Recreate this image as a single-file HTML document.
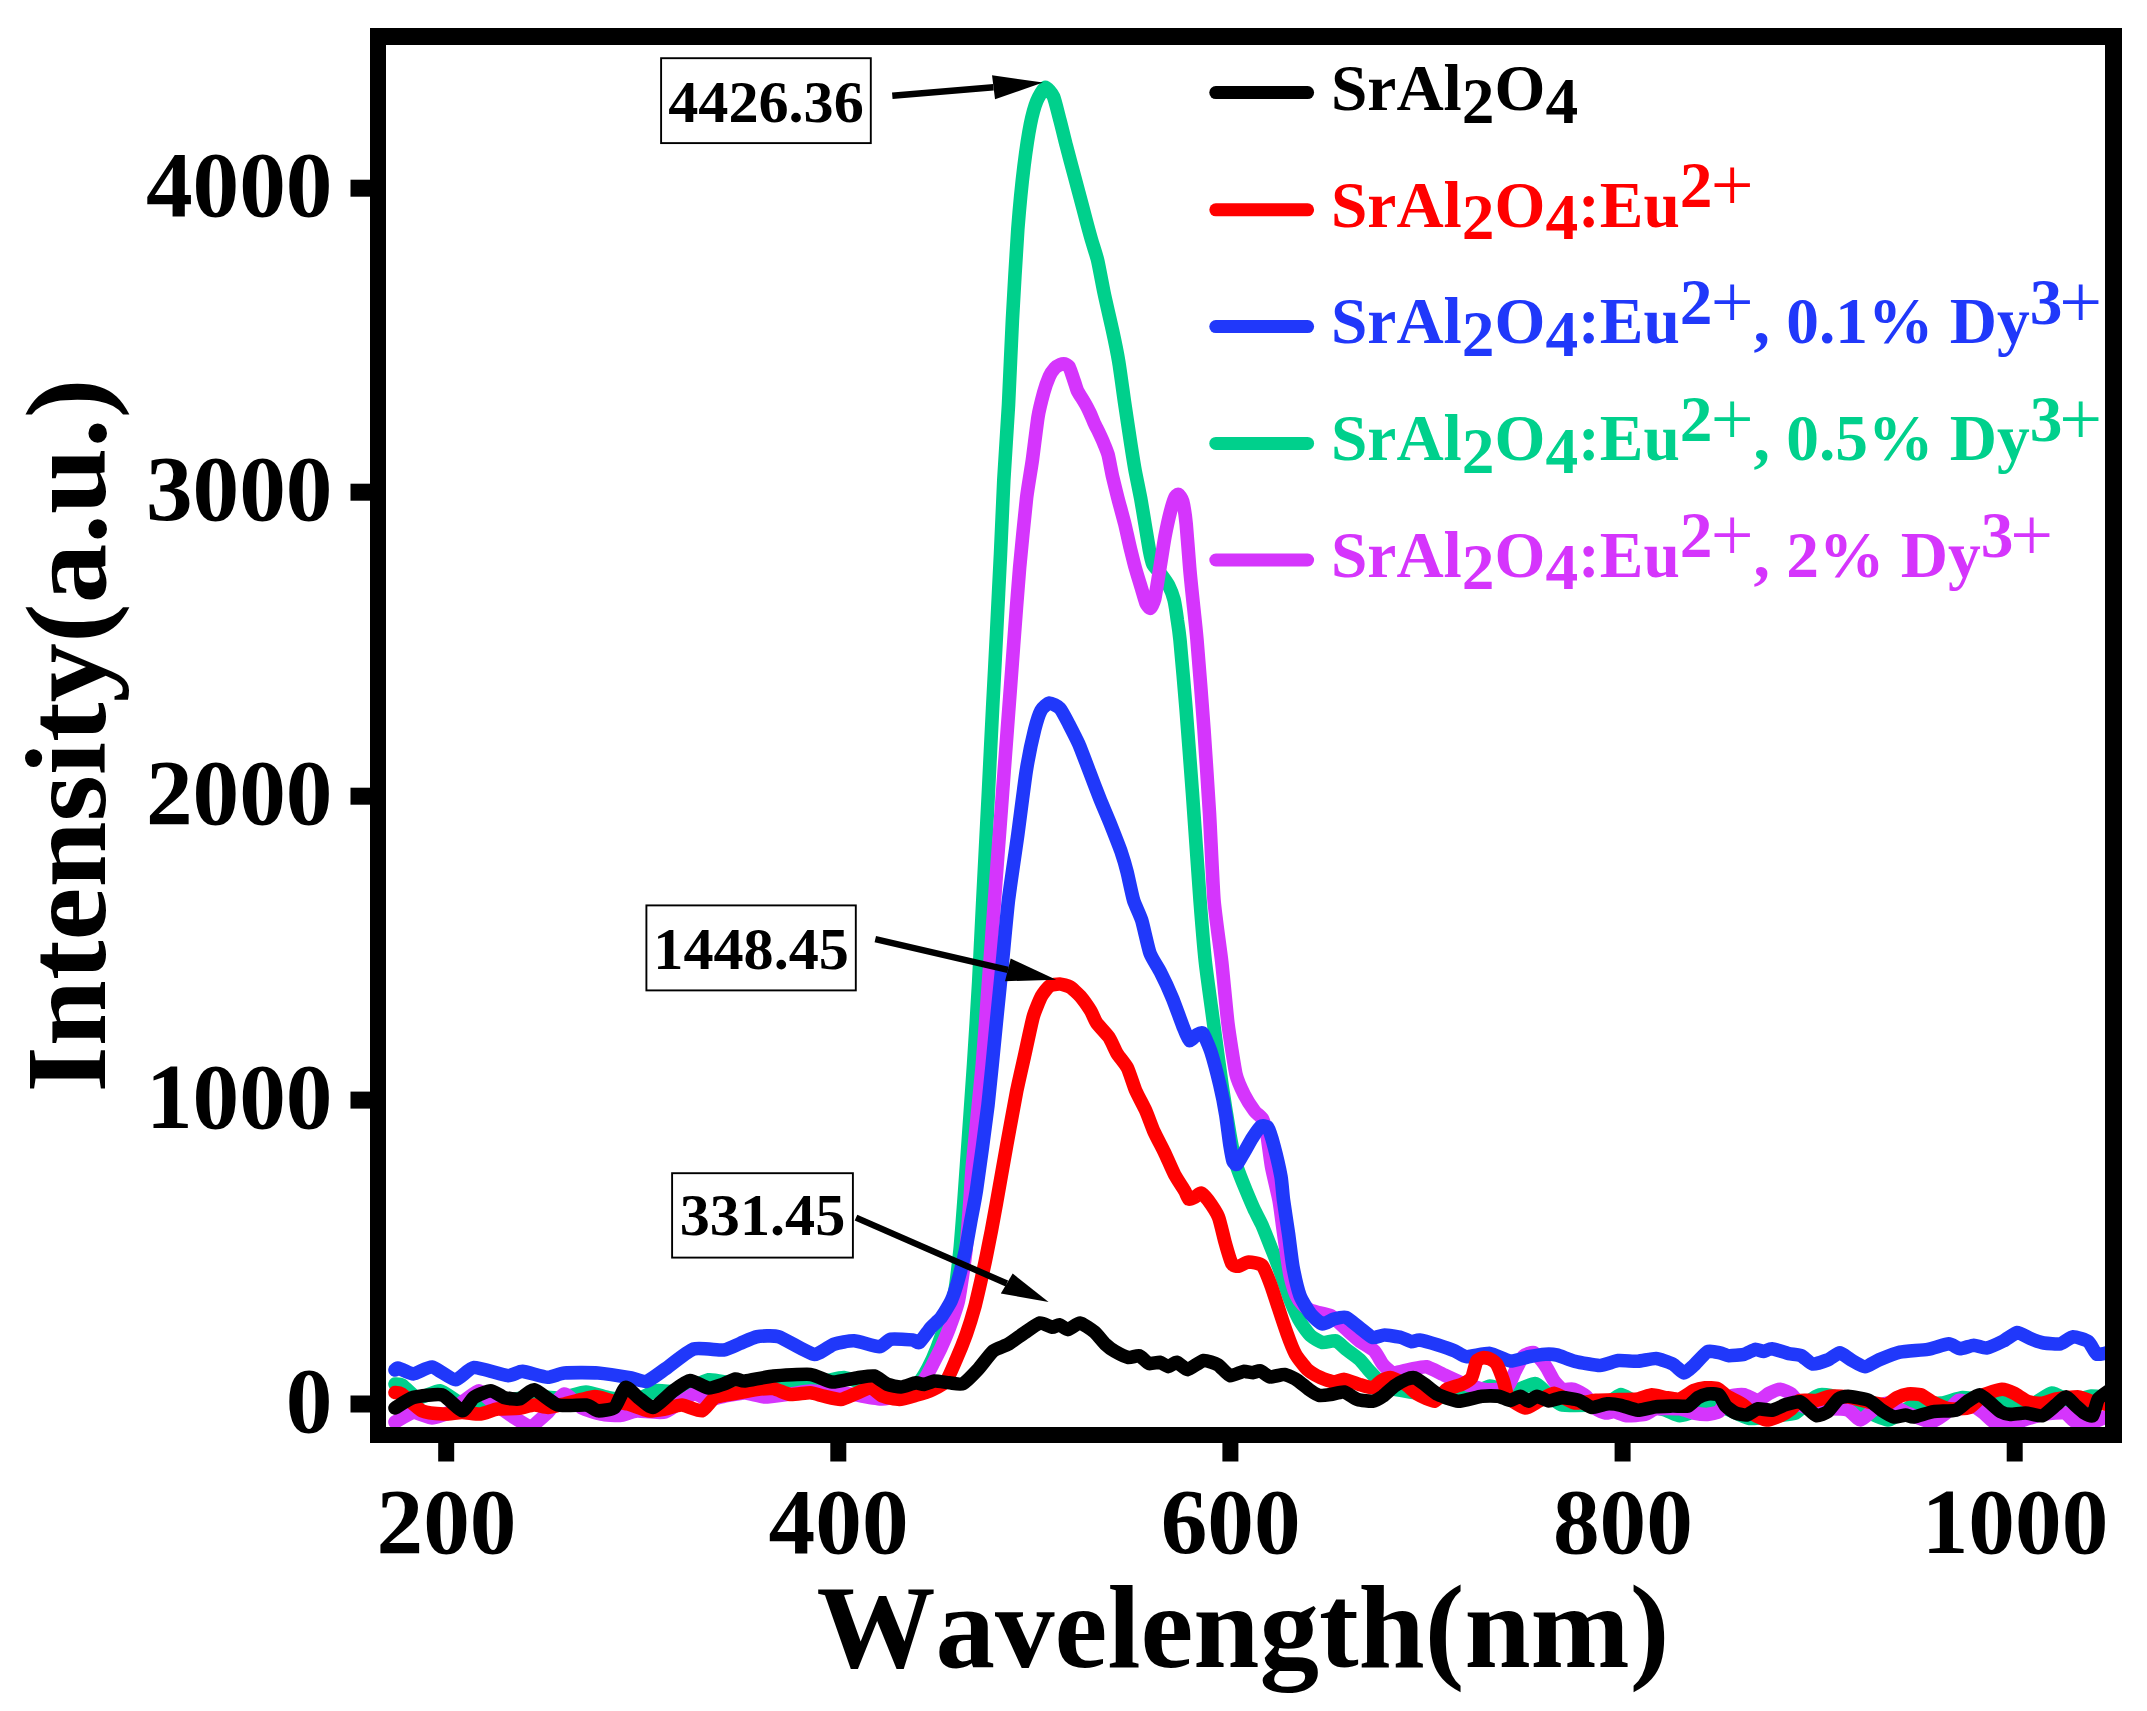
<!DOCTYPE html>
<html lang="en"><head><meta charset="utf-8"><title>Emission spectra</title>
<style>html,body{margin:0;padding:0;background:#fff}svg{display:block}text{font-family:"Liberation Serif",serif;font-weight:bold;font-kerning:none;}.tk{font-size:93.3px}.ax{font-size:119px}.lg{font-size:65.4px}.an{font-size:60.2px}.pl{font-weight:normal;font-size:76px}</style></head><body>
<svg width="2147" height="1711" viewBox="0 0 2147 1711">
<rect width="2147" height="1711" fill="#fff"/>
<defs><clipPath id="pc"><rect x="386" y="45" width="1719" height="1382"/></clipPath></defs>
<g clip-path="url(#pc)">
<path d="M395 1384C395.6 1384.1 399.9 1383.7 402 1385C404.1 1386.3 414.5 1397.5 418 1398C421.5 1398.5 436 1390.2 440 1390.7C444 1391.2 458 1402.9 462 1404C466 1405.1 479.6 1403.4 484 1403C488.4 1402.6 505.4 1400.6 510 1400C514.6 1399.4 529.4 1396.2 534 1396C538.6 1395.8 555.2 1398.4 560 1398C564.8 1397.6 581.4 1392 586 1392C590.6 1392 605.5 1397.3 610 1398C614.5 1398.7 630.7 1400.7 635 1400C639.3 1399.3 652.6 1391.4 656.7 1390.7C660.8 1390 675.2 1393 680 1392C684.8 1391 704 1380.6 708.6 1379.8C713.2 1379 725.3 1382.5 730 1383C734.7 1383.5 753.6 1385.1 760 1385C766.4 1384.9 794 1382.4 800 1382C806 1381.6 821 1381.4 825 1381C829 1380.6 839.9 1377.1 844 1377.5C848.1 1377.9 864.9 1383.9 870 1385C875.1 1386.1 895.6 1390.2 900 1390C904.4 1389.8 915.4 1385 918 1383C920.6 1381 926.3 1371.2 928 1368C929.7 1364.8 935.4 1352.2 937 1348C938.6 1343.8 944.4 1327.1 946 1322C947.6 1316.9 953.4 1298.6 954.7 1292C956 1285.4 959.1 1258.4 960 1250C960.9 1241.6 963.4 1207.7 964 1200C964.6 1192.3 965.5 1178.9 966.4 1166.4C967.3 1153.9 972.5 1080.9 973.6 1064C974.7 1047.1 977.9 997 978.7 982C979.5 967 981.9 917.4 982.8 900C983.7 882.6 987.5 810.1 988.4 792.5C989.3 774.9 991.8 723 992.6 708.3C993.4 693.6 995.9 646.1 996.6 632C997.3 617.9 999.8 567.9 1000.5 554C1001.2 540.1 1003.1 494 1003.8 480.3C1004.5 466.6 1007.7 419.7 1008.5 405C1009.3 390.3 1011.5 336.1 1012.4 320C1013.3 303.9 1016.7 243.5 1017.8 229.4C1018.9 215.3 1022.8 175.8 1024 166.2C1025.2 156.6 1029.2 130.2 1030.4 124.2C1031.6 118.2 1035.4 104.4 1036.8 101C1038.2 97.6 1043.7 87.7 1045.2 87.3C1046.7 86.9 1052.3 93.8 1053.6 96.8C1054.9 99.8 1058.7 115.6 1059.9 120C1061.1 124.4 1064.9 140 1066.2 145.2C1067.5 150.4 1073.1 171 1074.6 176.8C1076.1 182.6 1081.5 202.5 1083 208.3C1084.5 214.1 1090.1 235.1 1091.5 239.9C1092.9 244.7 1096.7 256.1 1097.8 260.9C1098.9 265.7 1102.7 286.1 1104 292.5C1105.3 298.9 1111.1 323.9 1112.5 330.3C1113.9 336.7 1117.7 355.4 1118.8 362C1119.9 368.6 1123.4 394.4 1124.5 402C1125.6 409.6 1130 438.8 1131 445.2C1132 451.6 1134.4 466.7 1135.3 471.5C1136.2 476.3 1139.7 493 1140.6 497.8C1141.5 502.6 1144.2 519.2 1145 524C1145.8 528.8 1148.7 546.7 1149.4 550.4C1150.1 554.1 1151.8 562.1 1152.9 564.4C1154 566.7 1160.2 573.1 1161.6 575C1163 576.9 1167.6 583.3 1168.7 585.5C1169.8 587.7 1173.2 596.3 1174 599.5C1174.8 602.7 1176.9 616.8 1177.4 620.5C1178 624.2 1179.2 632 1180 640C1180.8 648 1184.9 694.3 1186 708.3C1187.1 722.3 1191.1 774.9 1192.4 792.5C1193.7 810.1 1198.8 884.5 1200 900C1201.2 915.5 1204.1 950.2 1205.3 961.5C1206.5 972.8 1212 1011.7 1213.5 1023C1215 1034.3 1220.5 1074.7 1222 1085C1223.5 1095.3 1228.7 1127.8 1230 1135C1231.3 1142.2 1234.5 1158.9 1236 1164C1237.5 1169.1 1244.6 1186.9 1246.3 1191C1248 1195.1 1252.6 1205.9 1254 1209C1255.4 1212.1 1260.4 1221.5 1262 1225C1263.6 1228.5 1269.4 1243.6 1271 1247.5C1272.6 1251.4 1277.2 1263.1 1279 1268C1280.8 1272.9 1288.5 1295.6 1290.5 1300.6C1292.5 1305.6 1298.7 1319.2 1300.6 1322.4C1302.5 1325.6 1308.7 1334 1310.7 1335.8C1312.7 1337.6 1320.1 1342 1322.4 1342.5C1324.7 1343 1333.6 1340.2 1335.8 1340.8C1338 1341.4 1343.7 1347.5 1345.9 1349.2C1348.1 1350.9 1357.1 1357.3 1359.3 1359.3C1361.5 1361.3 1367.7 1369.2 1369.4 1371C1371.1 1372.8 1375.8 1377.8 1377.7 1379.4C1379.6 1381 1387 1386.8 1390 1388C1393 1389.2 1406.3 1391.4 1410 1392C1413.7 1392.6 1426.3 1394.5 1430 1395C1433.7 1395.5 1446.3 1398 1450 1398C1453.7 1398 1466.3 1396.1 1470 1395C1473.7 1393.9 1486.3 1386.3 1490 1386C1493.7 1385.7 1505.9 1392.2 1510 1392C1514.1 1391.8 1531.6 1383.5 1535 1383.6C1538.4 1383.7 1544.6 1391.5 1547 1393.4C1549.4 1395.3 1557.1 1403.5 1561 1404.6C1564.9 1405.7 1585.5 1405.3 1590 1405C1594.5 1404.7 1607.2 1402 1610 1401C1612.8 1400 1619 1394.6 1621 1394.5C1623 1394.4 1629.8 1399 1632 1400C1634.2 1401 1641.9 1404.1 1645 1405C1648.1 1405.9 1662.6 1409.2 1665.8 1410.2C1669 1411.2 1677.1 1415.6 1679.7 1415.7C1682.3 1415.8 1691.1 1412.7 1693.7 1411.6C1696.3 1410.5 1704.8 1403.5 1707.7 1403.2C1710.6 1402.9 1721.2 1406.6 1725 1408C1728.8 1409.4 1745 1417.8 1749.6 1418.5C1754.2 1419.2 1770.8 1416.5 1775 1416C1779.2 1415.5 1792.7 1414.3 1795.7 1413C1798.7 1411.7 1805.8 1403.7 1808 1402C1810.2 1400.3 1817.2 1395.3 1819.5 1394.8C1821.8 1394.3 1829.9 1395 1833.4 1396.2C1836.9 1397.4 1852.9 1405.2 1858 1407.4C1863.1 1409.6 1883.6 1420.3 1888.7 1420C1893.8 1419.7 1908.9 1406.2 1913.8 1404.6C1918.7 1403 1937.3 1403.7 1941.8 1403C1946.3 1402.3 1958.7 1397.8 1962.7 1397.5C1966.7 1397.2 1981.3 1399.7 1985 1400C1988.7 1400.3 1999.2 1400.5 2003.3 1401C2007.4 1401.5 2025.5 1405.7 2030 1405C2034.5 1404.3 2048.3 1393.4 2052 1393C2055.7 1392.6 2066.4 1400.7 2070 1401C2073.6 1401.3 2087.6 1396.3 2091.3 1396C2095 1395.7 2108.3 1397.8 2110 1398" fill="none" stroke="#00d08c" stroke-width="13.6" stroke-linecap="round" stroke-linejoin="round"/>
<path d="M395 1422C396.7 1421.1 410.1 1412.9 413.5 1412.5C416.9 1412.1 428.7 1418 432 1418C435.3 1418 447 1413.7 450 1412C453 1410.3 462.3 1402 465 1400C467.7 1398 476.7 1390.7 479 1390.7C481.3 1390.7 486.8 1397.5 490 1400C493.2 1402.5 510.2 1415.1 514 1417.5C517.8 1419.9 527.9 1426.5 531 1426C534.1 1425.5 544.6 1415.4 547.7 1412.5C550.8 1409.6 561.3 1394.4 564.4 1394C567.5 1393.6 578.6 1406.2 582 1408C585.4 1409.8 597.5 1413.3 601 1414C604.5 1414.7 616.7 1415.8 620 1415.5C623.3 1415.2 632.9 1411.3 637 1411C641.1 1410.7 659.8 1413.6 665 1412C670.2 1410.4 689.6 1395.1 693.5 1394C697.4 1392.9 705.1 1399.8 708 1400C710.9 1400.2 721.6 1396.6 725 1396C728.4 1395.4 741.3 1392.9 745 1393C748.7 1393.1 760.9 1396.9 765 1397C769.1 1397.1 785.9 1394.5 790 1394C794.1 1393.5 806.3 1391.1 810 1391C813.7 1390.9 826.3 1392.7 830 1393C833.7 1393.3 845.2 1393.5 850 1394C854.8 1394.5 877.4 1399 882 1399C886.6 1399 897 1395.6 900 1394.5C903 1393.4 912.8 1388.4 915 1387C917.2 1385.6 922.8 1381.5 924.4 1379.4C926 1377.3 931.3 1367.2 932.8 1364.3C934.3 1361.4 939.7 1351 941.2 1347.6C942.7 1344.2 948 1331.8 949.6 1327.4C951.2 1323 957.1 1307.1 958.6 1300C960.1 1292.9 965 1259.2 966 1250C967 1240.8 969.4 1207.7 970 1200C970.6 1192.3 971.2 1178.9 972.3 1166.4C973.4 1153.9 980.9 1080.9 982.4 1064C983.9 1047.1 987.4 997 988.5 982C989.6 967 993.4 915.4 994.5 900C995.6 884.6 999.8 829.1 1001 813.5C1002.2 797.9 1006.1 744.8 1007.3 729.4C1008.5 714 1012.5 660 1013.6 645.2C1014.7 630.4 1018.4 581.5 1019.6 568C1020.8 554.5 1025.4 507.7 1026.6 497.8C1027.8 487.9 1031.4 467.4 1032.4 460C1033.4 452.6 1037 423.3 1038 417.1C1039 410.9 1042.7 396.3 1043.7 392.6C1044.7 388.9 1048.3 378.8 1049.3 376.5C1050.3 374.2 1053.9 369.1 1054.9 368C1055.9 366.9 1059.6 364.9 1060.5 364.5C1061.4 364.1 1063.9 363.6 1064.7 363.8C1065.5 364 1068.3 365.7 1068.9 366.6C1069.5 367.5 1071.2 372.3 1071.7 373.7C1072.2 375.1 1074 380.5 1074.5 382C1075 383.5 1076.7 389.1 1077.3 390.5C1077.9 391.9 1080.7 396.2 1081.5 397.5C1082.3 398.8 1084.9 403.1 1085.7 404.5C1086.5 405.9 1089.2 411.3 1090 413C1090.8 414.7 1093.3 420.9 1094.1 422.7C1094.9 424.5 1098.1 430.7 1099 432.6C1099.9 434.5 1103.2 441.7 1104 443.8C1104.8 445.9 1107.4 452 1108.2 455C1109 458 1111.7 472.9 1112.6 476.8C1113.5 480.7 1116.7 493.5 1117.8 497.8C1118.9 502.1 1123.7 519.5 1124.8 524C1125.9 528.5 1129 543 1130 547C1131 551 1134.3 564.5 1135.3 568C1136.3 571.5 1139.6 582.3 1140.6 585.5C1141.6 588.7 1145 600.9 1145.9 603C1146.8 605.1 1149.5 608.6 1150.3 608.3C1151.1 608 1153.7 603.2 1154.6 599.5C1155.5 595.8 1158.9 573.8 1159.9 568C1160.9 562.2 1164 541.6 1165 536.4C1166 531.2 1169.5 515.3 1170.4 511.8C1171.3 508.3 1174.1 499.4 1174.8 497.8C1175.5 496.2 1177.6 494 1178.3 494.3C1179 494.6 1182 498.6 1182.7 501.3C1183.4 504 1185.6 517.9 1186.2 524C1186.8 530.1 1189.1 560.8 1189.7 568C1190.3 575.2 1192.5 596.4 1193.2 603C1193.9 609.6 1196 628.4 1197 640C1198 651.6 1202.9 713.5 1204 729.4C1205.1 745.3 1208.6 797.9 1209.5 813.5C1210.4 829.1 1212.9 886.4 1214 900C1215.1 913.6 1220.4 950.2 1221.7 961.5C1223 972.8 1226.6 1012.7 1227.9 1023C1229.2 1033.3 1234.5 1067.6 1236 1074.2C1237.5 1080.8 1242.6 1091.3 1244.3 1094.7C1246 1098.1 1252.8 1108.7 1254.5 1111C1256.2 1113.3 1261.6 1117.1 1262.7 1119.3C1263.8 1121.5 1266.2 1130.7 1267 1135C1267.8 1139.3 1270.4 1160.4 1271.5 1166.4C1272.6 1172.4 1278 1194.6 1279 1200C1280 1205.4 1281.9 1220.4 1282.5 1225C1283.1 1229.6 1285.3 1245.4 1286 1250C1286.7 1254.6 1289.1 1270.9 1290 1275C1290.9 1279.1 1294.8 1292.2 1296 1295C1297.2 1297.8 1301.7 1303.6 1303 1305C1304.3 1306.4 1308.7 1309.3 1310 1310C1311.3 1310.7 1315.5 1311.8 1317.4 1312.3C1319.3 1312.8 1328.2 1314.2 1330.8 1315.7C1333.4 1317.2 1343.3 1326.7 1345.9 1329C1348.5 1331.3 1356.7 1338.8 1359.3 1340.8C1361.9 1342.8 1372.2 1348.8 1374.4 1351C1376.6 1353.2 1381.1 1362.3 1382.8 1364.3C1384.5 1366.3 1390.3 1372.2 1392.8 1372.7C1395.3 1373.2 1406.5 1369.9 1409.6 1369.4C1412.7 1368.9 1423.3 1366.3 1426.4 1366.8C1429.5 1367.3 1439.8 1372.9 1443 1374.4C1446.2 1375.9 1457.8 1381.4 1461.6 1382.8C1465.4 1384.2 1480.9 1389 1485 1389.5C1489.1 1390 1504 1389.5 1506.8 1387.8C1509.6 1386.1 1513.7 1373.9 1515.2 1371C1516.7 1368.1 1521.9 1357.7 1523.6 1356C1525.3 1354.3 1532 1352.1 1533.7 1352.6C1535.4 1353.1 1540.8 1359.6 1542 1361C1543.2 1362.4 1545.9 1366.4 1547 1368.2C1548.1 1370 1552.6 1378.9 1554 1380.8C1555.4 1382.7 1560.6 1388.4 1562.4 1389.2C1564.2 1390 1571.3 1388.6 1573.5 1389.2C1575.7 1389.8 1583.9 1394.4 1586 1396.2C1588.1 1398 1594.2 1407.3 1596 1408.8C1597.8 1410.3 1604 1412.7 1605.7 1413C1607.4 1413.3 1612.1 1411.4 1614 1411.6C1615.9 1411.8 1623.8 1415.4 1626.6 1415.7C1629.4 1416 1642.1 1415 1644.8 1414.4C1647.5 1413.8 1652.8 1409.3 1656 1408.8C1659.2 1408.3 1676.2 1408.4 1679.7 1408.8C1683.2 1409.2 1691.1 1412.5 1693.7 1413C1696.3 1413.5 1705.4 1414.5 1707.7 1414.4C1710 1414.3 1717.1 1412.8 1718.8 1411.6C1720.5 1410.4 1724.5 1403.3 1725.8 1401.8C1727.1 1400.3 1731.1 1396.1 1732.8 1395.5C1734.5 1394.9 1741.7 1394.4 1744 1394.8C1746.3 1395.2 1755.7 1400.5 1758 1400.4C1760.3 1400.3 1767 1394.4 1769 1393.4C1771 1392.4 1778.2 1389.1 1780.3 1389.2C1782.4 1389.3 1789.7 1392.6 1791.5 1394C1793.3 1395.4 1797.9 1403.1 1799.9 1404.6C1801.9 1406.1 1811 1409.8 1813.8 1410.2C1816.6 1410.6 1826.9 1408.8 1830 1408.8C1833.1 1408.8 1845.2 1409 1848 1410C1850.8 1411 1858.3 1420.1 1860.7 1420C1863.1 1419.9 1872.4 1410.3 1874.7 1408.8C1877 1407.3 1883.1 1402.9 1885.9 1403.2C1888.7 1403.5 1900.9 1410.3 1905 1412C1909.1 1413.7 1926.8 1421.9 1930.6 1422C1934.4 1422.1 1943.4 1415 1946 1413C1948.6 1411 1956.3 1401.2 1958.5 1400.4C1960.7 1399.6 1967.7 1402.8 1970 1404C1972.3 1405.2 1981.4 1411.3 1983.7 1413C1986 1414.7 1992.3 1421.7 1994.9 1422.7C1997.5 1423.7 2008.4 1424.4 2011.6 1424C2014.8 1423.6 2026.9 1418.9 2030 1418C2033.1 1417.1 2041.8 1414.5 2045 1414C2048.2 1413.5 2062 1412.3 2064.7 1413C2067.4 1413.7 2072.3 1420.3 2074.5 1421.3C2076.7 1422.3 2085.2 1424.6 2088.5 1424C2091.8 1423.4 2108 1415.8 2110 1415" fill="none" stroke="#d535fc" stroke-width="13.6" stroke-linecap="round" stroke-linejoin="round"/>
<path d="M395 1370C395.3 1369.8 396.7 1367.6 398.4 1368C400.1 1368.4 410.4 1374 413.5 1373.9C416.6 1373.8 428.1 1366.5 432 1367C435.9 1367.5 451.7 1379.8 455.5 1379.8C459.3 1379.8 469.1 1367.9 473.9 1367.5C478.7 1367.1 502.9 1375.2 507.4 1375.6C511.9 1376 518.8 1371.2 522.5 1371.4C526.2 1371.6 543.9 1377.2 547.7 1377.3C551.5 1377.4 559.8 1373.4 564.4 1373C569 1372.6 591.8 1372.5 598 1373C604.2 1373.5 627 1377.2 631.5 1378C636 1378.8 643.5 1382.2 646.6 1381.4C649.7 1380.6 660.7 1372.2 665 1369.2C669.3 1366.2 688.1 1350.8 693.5 1349C698.9 1347.2 719.4 1350.5 723.7 1350C728 1349.5 737 1344.7 740 1343.5C743 1342.3 753.3 1337.3 756.8 1336.7C760.3 1336.1 773.4 1335.1 778.6 1336.7C783.8 1338.3 808.7 1353.6 813.8 1354.3C818.9 1355 830.2 1345.4 833.9 1344.2C837.6 1343 849.8 1340.6 854 1340.8C858.2 1341 875.8 1346.8 879.2 1346.7C882.6 1346.6 887.8 1339.8 890.9 1339.2C894 1338.6 910.1 1339.7 912.7 1340C915.3 1340.3 917.7 1343.7 919.4 1342.5C921.1 1341.3 929 1329.7 931 1327.4C933 1325.1 939.3 1319.9 941.2 1317.4C943.1 1314.9 949.8 1304 951.3 1300.6C952.8 1297.2 956.7 1285.1 958 1280.5C959.3 1275.9 964.3 1255.8 965.5 1250.3C966.7 1244.8 970 1225.5 971 1220C972 1214.5 974.9 1200.5 976.5 1190C978.1 1179.5 986.2 1120.3 988 1105C989.8 1089.7 995 1036.2 996.3 1023C997.6 1009.8 1001.4 972.8 1002.5 961.5C1003.6 950.2 1007.1 911.6 1008.5 900C1009.9 888.4 1016.2 846.4 1017.8 834.6C1019.4 822.8 1024.7 781 1026.2 771.4C1027.7 761.8 1033.3 735 1034.7 729.4C1036.1 723.8 1039.7 712.8 1041 710.4C1042.3 708 1047.7 703.2 1049.4 703C1051.1 702.8 1058.2 706.5 1059.9 708.3C1061.6 710.1 1066.6 719.7 1068.3 723C1070 726.3 1076.9 739.6 1078.8 744C1080.7 748.4 1087.5 766.4 1089.4 771.4C1091.3 776.4 1098 794 1099.9 798.8C1101.8 803.6 1108.5 819.2 1110.4 824C1112.3 828.8 1119.5 847 1121 851.4C1122.5 855.8 1126.1 867.9 1127.2 872.4C1128.3 876.9 1132.2 895.6 1133.5 900C1134.8 904.4 1140.3 915.6 1141.8 920.5C1143.3 925.4 1148.3 948.6 1150 953.3C1151.7 958 1158.1 967.6 1160.2 971.7C1162.3 975.8 1170.4 993.2 1172.5 998.4C1174.6 1003.6 1182.1 1024.1 1183.6 1028C1185.1 1031.9 1188.2 1040 1189.4 1040.6C1190.6 1041.2 1195.9 1035.2 1197.1 1034.5C1198.3 1033.8 1201.7 1031.9 1203 1033.5C1204.3 1035.1 1209.5 1047.3 1211 1052C1212.5 1056.7 1218.3 1078.6 1219.7 1084.4C1221.1 1090.2 1224.9 1109.6 1225.8 1115.2C1226.7 1120.8 1229.3 1141.7 1230 1145.9C1230.7 1150.1 1232.4 1159.6 1233 1161.3C1233.6 1163 1236 1165.2 1237 1164.3C1238 1163.4 1242.9 1154.4 1244.3 1152C1245.7 1149.6 1251 1140 1252.5 1137.7C1254 1135.4 1259.3 1127.3 1260.7 1126.4C1262.1 1125.5 1266.6 1125.7 1267.8 1127.5C1269 1129.3 1272.8 1141.4 1274 1145.9C1275.2 1150.4 1280.1 1171.6 1281 1176.6C1281.9 1181.6 1282.8 1194.8 1283.5 1200C1284.2 1205.2 1287.6 1227.4 1288.5 1233.5C1289.4 1239.6 1291.9 1261.3 1293 1267C1294.1 1272.7 1298.4 1291.3 1300 1295.6C1301.6 1299.9 1308.6 1311.4 1310.7 1314C1312.8 1316.6 1320.3 1323.5 1322.4 1324C1324.5 1324.5 1331.8 1319.6 1334 1319C1336.2 1318.4 1343.6 1316.6 1345.9 1317.4C1348.2 1318.2 1356.8 1325.6 1359.3 1327.4C1361.8 1329.2 1370.4 1336.8 1372.7 1337.5C1375 1338.2 1381.8 1335 1384.4 1335C1387 1335 1398.7 1336.9 1401.2 1337.5C1403.7 1338.1 1409.6 1341.5 1411.3 1341.7C1413 1341.9 1417.2 1339.7 1419.6 1340C1422 1340.3 1434.8 1344 1438 1345C1441.2 1346 1452.3 1349.9 1454.9 1351C1457.5 1352.1 1463.4 1356.6 1466.6 1356.8C1469.8 1357 1486 1353 1490 1353.4C1494 1353.8 1506.7 1360.7 1510.2 1361C1513.7 1361.3 1525.4 1357.4 1528.6 1356.8C1531.8 1356.2 1542.8 1354.5 1545.4 1354.3C1548 1354.1 1554.1 1354.4 1556.8 1355C1559.5 1355.6 1571 1360.3 1575 1361.3C1579 1362.3 1596 1365.6 1600 1365.5C1604 1365.4 1614.7 1361 1618.2 1360.6C1621.7 1360.2 1634.3 1361.5 1637.8 1361.3C1641.3 1361.1 1652.8 1358.3 1656 1358.5C1659.2 1358.7 1670.1 1362.7 1672.7 1364C1675.3 1365.3 1682 1372.9 1683.9 1373C1685.8 1373.1 1691.5 1367.5 1693.7 1365.5C1695.9 1363.5 1705.3 1352.7 1707.7 1351.5C1710.1 1350.3 1718.3 1352.5 1720.2 1352.9C1722.1 1353.3 1726.4 1355.6 1728.6 1355.7C1730.8 1355.8 1741.6 1354.9 1744 1354.3C1746.4 1353.7 1753.4 1349.7 1755.2 1349.4C1757 1349.1 1762.1 1351.6 1763.6 1351.5C1765.1 1351.4 1769.7 1348.5 1772 1348.7C1774.3 1348.9 1786 1353 1788.7 1353.6C1791.4 1354.2 1799.1 1354.7 1801.3 1355.7C1803.5 1356.7 1810.1 1363.6 1812.5 1364C1814.9 1364.4 1825.3 1360.9 1827.8 1359.9C1830.3 1358.9 1837.7 1352.9 1839.8 1352.9C1841.9 1352.9 1848.7 1358.6 1851 1359.9C1853.3 1361.2 1862.4 1366.8 1865 1366.8C1867.6 1366.8 1875.7 1361.2 1878.9 1359.9C1882.1 1358.6 1895.4 1353.2 1899.9 1352.2C1904.4 1351.2 1923.3 1350.2 1927.8 1349.4C1932.3 1348.6 1945.8 1343.9 1948.8 1343.8C1951.8 1343.7 1957.7 1348.6 1960 1348.7C1962.3 1348.8 1971.5 1345.3 1973.9 1345.2C1976.3 1345.1 1983.8 1348.4 1986.5 1348C1989.2 1347.6 2000.5 1342.4 2003.3 1341C2006.1 1339.6 2014.8 1332.9 2017.2 1332.6C2019.6 1332.3 2027.4 1337.2 2029.8 1338.2C2032.2 1339.2 2041 1342.5 2043.8 1343C2046.6 1343.5 2057.8 1344.4 2060.5 1343.8C2063.2 1343.2 2070.4 1337 2073 1336.8C2075.6 1336.6 2086.3 1340.1 2088.5 1341.7C2090.7 1343.3 2094.9 1353.4 2096.9 1354.3C2098.9 1355.2 2108.8 1352.2 2110 1352" fill="none" stroke="#2038fa" stroke-width="13.6" stroke-linecap="round" stroke-linejoin="round"/>
<path d="M395 1392.5C395.6 1392.6 399.3 1392.3 401.8 1394C404.3 1395.7 418.2 1409 422 1410.8C425.8 1412.6 440 1413.8 443.7 1414C447.4 1414.2 458.6 1412.5 462 1412.5C465.4 1412.5 477.4 1414.3 480.6 1414C483.8 1413.7 493.9 1409.5 497.4 1409C500.9 1408.5 515.6 1408.7 519 1408.3C522.4 1407.9 531.3 1405.1 534 1405C536.7 1404.9 545.2 1407.6 548 1407.5C550.8 1407.4 559.7 1405 564 1404C568.3 1403 590.3 1396.8 594.6 1396.5C598.9 1396.2 607.9 1400 611 1400.7C614.1 1401.4 624.6 1403.1 628 1404C631.4 1404.9 644.9 1410.3 648.3 1410.8C651.7 1411.3 661.9 1409.5 665 1409C668.1 1408.5 678.4 1404.8 681.8 1405C685.2 1405.2 698.9 1411.5 702 1410.8C705.1 1410.1 711.8 1399.1 715.3 1397.4C718.8 1395.7 736.2 1393.2 740 1392.5C743.8 1391.8 753.7 1389.9 756.8 1389.5C759.9 1389.1 770.4 1388.1 773.5 1388.6C776.6 1389.1 786.9 1394.1 790.3 1394.5C793.7 1394.9 807.3 1392.6 810.4 1392.8C813.5 1393 821 1395.6 823.8 1396.2C826.6 1396.8 837.5 1399.8 840.6 1399.5C843.7 1399.2 854.6 1393.9 857.4 1392.8C860.2 1391.7 868.5 1387.5 870.8 1387.8C873.1 1388.1 879.9 1394.9 882.5 1396C885.1 1397.1 896.2 1399.6 899.3 1399.5C902.4 1399.4 912.9 1396.2 916 1395.3C919.1 1394.4 930 1390.8 932.8 1389.5C935.6 1388.2 944 1383.8 946.2 1381C948.4 1378.2 954.4 1363.6 956.3 1359.3C958.2 1355 964.7 1338.8 966.4 1334C968.1 1329.2 973.3 1312.4 974.7 1307.3C976.1 1302.2 980.3 1283.6 981.4 1278.8C982.5 1274 985.6 1259.8 986.5 1255.3C987.4 1250.8 990.6 1234.9 991.5 1230.2C992.4 1225.5 995 1211.2 996.4 1203.5C997.8 1195.8 1004.7 1156.2 1006.6 1145.9C1008.5 1135.6 1015.1 1099.1 1016.8 1090.6C1018.5 1082.1 1023.5 1060.5 1025 1053.7C1026.5 1046.9 1031.7 1022.1 1033.2 1016.8C1034.7 1011.5 1039.9 999.1 1041.4 996.3C1042.9 993.5 1047.9 987.1 1049.6 986C1051.3 984.9 1057.9 983.9 1059.8 984C1061.7 984.1 1068.1 985.9 1070 987C1071.9 988.1 1078.4 994.1 1080.3 996.3C1082.2 998.5 1089.1 1008.3 1090.6 1010.7C1092.1 1013.1 1095 1020.6 1096.7 1023C1098.4 1025.4 1107.1 1034.5 1109 1037.3C1110.9 1040.1 1115.5 1050.9 1117.2 1053.7C1118.9 1056.5 1125.8 1064.6 1127.5 1068C1129.2 1071.4 1134 1086.7 1135.7 1090.6C1137.4 1094.5 1144.2 1107.2 1145.9 1111C1147.6 1114.8 1152.3 1127.8 1154 1131.6C1155.7 1135.4 1162.4 1148.1 1164.3 1152C1166.2 1155.9 1172.7 1171 1174.6 1174.6C1176.5 1178.2 1183.5 1188.7 1184.8 1191C1186.1 1193.3 1188 1198.7 1188.9 1199.2C1189.8 1199.8 1193.9 1197.6 1195 1197C1196.1 1196.4 1200 1192.7 1201.2 1193C1202.4 1193.3 1206.4 1197.8 1208 1200C1209.6 1202.2 1216.8 1213 1218.4 1216.8C1220 1220.6 1223.8 1237.7 1225 1242C1226.2 1246.3 1230.7 1261.5 1231.9 1263.7C1233.1 1265.9 1237.1 1266.4 1238.6 1266.2C1240.1 1266 1246.5 1262.1 1248.6 1262C1250.7 1261.9 1260 1263.4 1262 1265.4C1264 1267.4 1268.9 1279.8 1270.4 1283.8C1271.9 1287.8 1277.3 1304.4 1278.8 1309C1280.3 1313.6 1285.7 1329.8 1287.2 1334C1288.7 1338.2 1293.8 1351.1 1295.6 1354.3C1297.4 1357.5 1305 1367.3 1307.3 1369.4C1309.6 1371.5 1318.3 1376.5 1320.7 1377.7C1323.1 1378.9 1331.8 1381.8 1334 1382C1336.2 1382.2 1341.9 1379.2 1344.2 1379.4C1346.5 1379.6 1356.7 1383.6 1359.3 1384.4C1361.9 1385.2 1370.7 1388.1 1372.7 1387.8C1374.7 1387.5 1379.3 1381.9 1381 1381C1382.7 1380.1 1388.8 1377.4 1391 1377.7C1393.2 1378 1402.5 1382.5 1405 1384C1407.5 1385.5 1415.3 1392.9 1418 1394.5C1420.7 1396.1 1432.1 1401.7 1434.7 1401.2C1437.3 1400.7 1444 1391 1446.5 1389.5C1449 1388 1459.3 1385.5 1461.6 1384.4C1463.9 1383.3 1470.2 1379.8 1471.6 1377.7C1473 1375.6 1475.6 1362.8 1476.7 1361C1477.8 1359.2 1482.2 1357.8 1483.4 1357.6C1484.6 1357.4 1488.8 1358.4 1490 1359C1491.2 1359.6 1495.6 1362.3 1496.8 1364.3C1498 1366.3 1502.4 1377.9 1503.5 1381C1504.6 1384.1 1506.5 1395.3 1508.5 1397.8C1510.5 1400.3 1522.5 1407.7 1525.3 1408C1528.1 1408.3 1536.1 1402.5 1538.7 1401.2C1541.3 1399.9 1550.7 1393.2 1554 1393.4C1557.3 1393.6 1571.2 1402.4 1575 1403C1578.8 1403.6 1592.4 1400.7 1596 1400.4C1599.6 1400.1 1610.2 1399.8 1614 1399.7C1617.8 1399.6 1634.3 1399.4 1637.8 1399C1641.3 1398.6 1649.2 1394.9 1651.8 1394.8C1654.4 1394.7 1663.2 1397.2 1665.8 1397.6C1668.4 1398 1677.1 1399.6 1679.7 1399C1682.3 1398.4 1691.4 1391.6 1693.7 1390.6C1696 1389.6 1702.7 1388 1704.9 1387.8C1707.1 1387.6 1715.4 1387.7 1717.4 1388.5C1719.4 1389.3 1724.9 1394.7 1727.2 1396.2C1729.5 1397.7 1740.2 1402.9 1742.6 1404.6C1745 1406.3 1751.6 1413 1753.8 1414.4C1756 1415.8 1764 1419.9 1766.4 1420C1768.8 1420.1 1778 1416.7 1780.3 1415.7C1782.6 1414.7 1789.7 1410.2 1791.5 1408.8C1793.3 1407.4 1797.6 1401.2 1799.9 1400.4C1802.2 1399.6 1813.9 1400.8 1816.7 1400.4C1819.5 1400 1827.1 1396.5 1830 1396.2C1832.9 1395.9 1844.4 1396.5 1848 1397C1851.6 1397.5 1865.5 1401.3 1869 1402C1872.5 1402.7 1883.3 1405 1885.9 1404.6C1888.5 1404.2 1895 1398.6 1897 1397.6C1899 1396.6 1906 1394.3 1908.2 1394C1910.4 1393.7 1918.6 1394.1 1920.8 1394.8C1923 1395.5 1929.4 1400.5 1932 1401.8C1934.6 1403.1 1945.3 1408.3 1948.8 1408.8C1952.3 1409.3 1966.5 1408.7 1969.7 1407.4C1972.9 1406.1 1980.7 1396.5 1983.7 1394.8C1986.7 1393.1 1999.1 1389.3 2001.9 1389.2C2004.7 1389.1 2012 1392.2 2014.4 1393.4C2016.8 1394.6 2025.8 1400.9 2028.4 1401.8C2031 1402.7 2039.8 1403.5 2042.4 1403.2C2045 1402.9 2053.1 1399.6 2056.4 1399C2059.7 1398.4 2075.4 1396.6 2078.7 1396.9C2082 1397.2 2089.8 1401.1 2092.7 1401.8C2095.6 1402.5 2108.4 1404.3 2110 1404.6" fill="none" stroke="#ff0000" stroke-width="13.6" stroke-linecap="round" stroke-linejoin="round"/>
<path d="M395 1408C396.7 1407 409.2 1398.6 413.5 1397.4C417.8 1396.2 437.5 1393.7 442 1394.9C446.5 1396.1 459.3 1410.6 462.2 1410.8C465.1 1411 471.3 1399.2 473.9 1397.4C476.5 1395.6 487.9 1390.7 490.7 1390.7C493.5 1390.7 501.4 1396.6 504 1397.4C506.6 1398.2 516.4 1399.7 519.2 1399C522 1398.3 530.8 1389.2 534.3 1389.8C537.8 1390.3 552.9 1403.6 557.7 1405C562.5 1406.4 582.5 1404.5 586.2 1405C589.9 1405.5 595.4 1410.6 598 1410.8C600.6 1411 612.2 1409.6 614.7 1407.4C617.2 1405.2 623.4 1388.2 625.6 1387.3C627.8 1386.4 635.7 1395.6 638.2 1397.4C640.7 1399.2 650.1 1408 653.3 1407.4C656.5 1406.8 670 1393.2 673.4 1390.7C676.8 1388.2 687 1380.8 690.2 1380.6C693.4 1380.4 705.5 1387.7 708.6 1388C711.7 1388.3 721.2 1384.8 723.7 1384C726.2 1383.2 733.5 1379.3 735.5 1379C737.5 1378.7 741.5 1381.3 745 1381C748.5 1380.7 767.5 1376.6 773.5 1376C779.5 1375.4 805 1373.9 810.4 1374.4C815.8 1375 827.9 1381.7 832.2 1382C836.5 1382.3 853.6 1378.2 857.4 1377.7C861.2 1377.2 871.2 1375.4 874 1376C876.8 1376.6 885 1383.4 887.5 1384.4C890 1385.4 898.4 1387.1 901 1387C903.6 1386.9 913.9 1383 916 1382.8C918.1 1382.6 922.3 1384.7 924 1384.5C925.7 1384.3 932.2 1381.2 934.5 1381C936.8 1380.8 947 1382.6 949.6 1382.8C952.2 1383 960.4 1384.8 963 1383.6C965.6 1382.4 975.2 1372.4 978 1369.4C980.8 1366.4 990.4 1353.3 993.2 1351C996 1348.7 1005.4 1345.9 1008.3 1344.2C1011.2 1342.5 1022.1 1334.4 1025 1332.5C1027.9 1330.6 1037.5 1323.5 1040 1323C1042.5 1322.5 1050.2 1327 1052 1327.2C1053.8 1327.4 1057.9 1324.6 1059.4 1324.8C1060.9 1325 1066 1329.8 1067.9 1329.6C1069.8 1329.4 1077.6 1322.8 1080 1323C1082.4 1323.2 1092.2 1330.1 1094.5 1332C1096.8 1333.9 1103.5 1342.4 1105.4 1344.2C1107.3 1346 1112.9 1350.2 1115 1351.4C1117.1 1352.6 1126.2 1357.1 1128.4 1357.5C1130.6 1357.9 1137.4 1355.1 1139.3 1355.7C1141.2 1356.3 1147.1 1363 1149 1363.6C1150.9 1364.2 1158.1 1362 1159.9 1362.3C1161.7 1362.6 1166.9 1366.6 1168.4 1366.6C1169.9 1366.6 1175 1362 1176.8 1362.3C1178.6 1362.6 1185.3 1369.8 1187.7 1369.6C1190.1 1369.4 1200.7 1360.9 1203.5 1360.5C1206.3 1360.1 1215.6 1363.4 1218 1364.8C1220.4 1366.2 1227.7 1375.1 1230 1375.7C1232.3 1376.3 1241.3 1371.7 1243.4 1371.4C1245.5 1371.1 1251.4 1372.7 1253 1372.6C1254.6 1372.5 1258.8 1370.4 1260.4 1370.8C1262 1371.2 1267.8 1376.6 1270 1376.9C1272.2 1377.2 1282.1 1374.2 1284.6 1374.5C1287.1 1374.8 1295.1 1378.8 1297.3 1380.2C1299.5 1381.6 1307 1388.1 1309 1389.5C1311 1390.9 1317 1394.8 1319 1395.3C1321 1395.8 1328.5 1394.8 1330.8 1394.5C1333.1 1394.2 1341.7 1391.5 1344.2 1392C1346.7 1392.5 1355 1398.7 1357.6 1399.5C1360.2 1400.3 1370.4 1401.5 1372.7 1401.2C1375 1400.9 1380.8 1397.6 1382.8 1396.2C1384.8 1394.8 1392.4 1387.5 1394.5 1386C1396.6 1384.5 1404.4 1380.2 1406.2 1379.4C1408 1378.6 1412.9 1377.2 1414.6 1377.7C1416.3 1378.2 1422.6 1382.9 1424.7 1384.4C1426.8 1385.9 1434.9 1393 1438 1394.5C1441.1 1396 1454.2 1401 1458.2 1401.2C1462.2 1401.4 1478 1396.7 1481.7 1396.2C1485.4 1395.7 1495.9 1395.8 1498.5 1396.2C1501.1 1396.6 1508.2 1400.4 1510.2 1400.4C1512.2 1400.4 1518.6 1396.1 1520.3 1396.2C1522 1396.3 1527.1 1401.2 1528.6 1401.2C1530.1 1401.2 1535.1 1396.2 1537 1396.2C1538.9 1396.2 1546.5 1400.9 1548.8 1401C1551.1 1401.1 1559.6 1397.7 1562.4 1397.6C1565.2 1397.5 1576.3 1399.5 1579 1400.4C1581.7 1401.3 1589.1 1407.1 1591.7 1407.4C1594.3 1407.7 1604.3 1404.1 1607 1403.9C1609.7 1403.7 1618.2 1404.7 1621 1405.3C1623.8 1405.9 1634.6 1410.1 1637.8 1410.2C1641 1410.3 1652.8 1407.1 1656 1406.7C1659.2 1406.3 1669.8 1406.1 1672.7 1406C1675.6 1405.9 1685.7 1406.8 1688 1406C1690.3 1405.2 1696.1 1398.7 1697.9 1397.6C1699.7 1396.5 1705.8 1394.3 1707.7 1394C1709.6 1393.7 1717.1 1393.7 1718.8 1394.8C1720.5 1395.9 1724.3 1404.3 1725.8 1406C1727.3 1407.7 1733.7 1412.2 1735.6 1413C1737.5 1413.8 1744.7 1415.4 1746.8 1415C1748.9 1414.6 1755.7 1409.2 1758 1408.8C1760.3 1408.4 1769.4 1410.6 1772 1410.2C1774.6 1409.8 1783.3 1405.4 1785.9 1404.6C1788.5 1403.8 1797.8 1401.4 1799.9 1401.8C1802 1402.2 1806.8 1407.5 1808.3 1408.8C1809.8 1410.1 1814.9 1415.4 1816.7 1415.7C1818.5 1416 1825.8 1413.1 1827.8 1411.6C1829.8 1410.1 1836.5 1400.4 1838.4 1399C1840.3 1397.6 1845.4 1396.1 1848.2 1396.2C1851 1396.3 1865.9 1399.1 1869 1400.4C1872.1 1401.7 1879.4 1408.7 1881.7 1410.2C1884 1411.7 1892.1 1416.6 1894.3 1417C1896.5 1417.4 1903.7 1415 1905.5 1415C1907.3 1415 1911.2 1417.3 1913.8 1417C1916.4 1416.7 1929.6 1412.2 1933.4 1411.6C1937.2 1411 1952.7 1411.1 1955.8 1410.2C1958.9 1409.3 1964.8 1403.2 1967 1401.8C1969.2 1400.4 1977.3 1394.7 1979.5 1394.8C1981.7 1394.9 1988.8 1401.7 1990.7 1403.2C1992.6 1404.7 1998.7 1410.6 2000.5 1411.6C2002.3 1412.6 2007.9 1414.3 2010.2 1414.4C2012.5 1414.5 2022.6 1412.9 2025.6 1413C2028.6 1413.1 2039.6 1416.5 2042.4 1415.7C2045.2 1414.9 2054.2 1406.3 2056.4 1404.6C2058.6 1402.9 2064.2 1396.8 2066 1396.9C2067.8 1397 2074.3 1404.5 2076 1406C2077.7 1407.5 2082.8 1412.1 2084.3 1413C2085.8 1413.9 2091.4 1417 2092.7 1415.7C2094 1414.4 2096.7 1401.4 2098.3 1399C2099.9 1396.6 2108.9 1390.8 2110 1390" fill="none" stroke="#000000" stroke-width="13.6" stroke-linecap="round" stroke-linejoin="round"/>
</g>
<path d="M370 28H2122V1443H370ZM386 45V1427H2105V45Z" fill="#000" fill-rule="evenodd"/>
<rect x="438.2" y="1442" width="16" height="19.5" fill="#000"/>
<rect x="830.3" y="1442" width="16" height="19.5" fill="#000"/>
<rect x="1222.4" y="1442" width="16" height="19.5" fill="#000"/>
<rect x="1614.6" y="1442" width="16" height="19.5" fill="#000"/>
<rect x="2006.7" y="1442" width="16" height="19.5" fill="#000"/>
<rect x="350.5" y="179.7" width="20" height="17" fill="#000"/>
<rect x="350.5" y="483.7" width="20" height="17" fill="#000"/>
<rect x="350.5" y="787.7" width="20" height="17" fill="#000"/>
<rect x="350.5" y="1091.6" width="20" height="17" fill="#000"/>
<rect x="350.5" y="1395.5" width="20" height="17" fill="#000"/>
<text class="tk" x="446.5" y="1553" text-anchor="middle">200</text>
<text class="tk" x="838.6" y="1553" text-anchor="middle">400</text>
<text class="tk" x="1230.7" y="1553" text-anchor="middle">600</text>
<text class="tk" x="1622.9" y="1553" text-anchor="middle">800</text>
<text class="tk" x="2015" y="1553" text-anchor="middle">1000</text>
<text class="tk" x="332.5" y="215.7" text-anchor="end">4000</text>
<text class="tk" x="332.5" y="519.7" text-anchor="end">3000</text>
<text class="tk" x="332.5" y="823.7" text-anchor="end">2000</text>
<text class="tk" x="332.5" y="1127.6" text-anchor="end">1000</text>
<text class="tk" x="332.5" y="1431.5" text-anchor="end">0</text>
<text class="ax" x="1243" y="1667" text-anchor="middle">Wavelength(nm)</text>
<text class="ax" transform="translate(105 735.5) rotate(-90) scale(1 0.955)" text-anchor="middle">Intensity(a.u.)</text>
<line x1="1215.8" y1="92.6" x2="1307.6" y2="92.6" stroke="#000000" stroke-width="13" stroke-linecap="round"/>
<text class="lg" x="1331" y="110" fill="#000000">SrAl<tspan y="122.5">2</tspan><tspan y="110">O</tspan><tspan y="122.5">4</tspan></text>
<line x1="1215.8" y1="209.8" x2="1307.6" y2="209.8" stroke="#ff0000" stroke-width="13" stroke-linecap="round"/>
<text class="lg" x="1331" y="226.7" fill="#ff0000">SrAl<tspan y="239.2">2</tspan><tspan y="226.7">O</tspan><tspan y="239.2">4</tspan><tspan y="226.7">:Eu</tspan><tspan y="207.2">2</tspan><tspan class="pl" y="210.4" dx="-1.8">+</tspan></text>
<line x1="1215.8" y1="326.6" x2="1307.6" y2="326.6" stroke="#2038fa" stroke-width="13" stroke-linecap="round"/>
<text class="lg" x="1331" y="343.3" fill="#2038fa">SrAl<tspan y="355.8">2</tspan><tspan y="343.3">O</tspan><tspan y="355.8">4</tspan><tspan y="343.3">:Eu</tspan><tspan y="323.8">2</tspan><tspan class="pl" y="327" dx="-1.8">+</tspan><tspan y="343.3">, 0.1% Dy</tspan><tspan y="323.8">3</tspan><tspan class="pl" y="327" dx="-3.2">+</tspan></text>
<line x1="1215.8" y1="443.4" x2="1307.6" y2="443.4" stroke="#00d08c" stroke-width="13" stroke-linecap="round"/>
<text class="lg" x="1331" y="460" fill="#00d08c">SrAl<tspan y="472.5">2</tspan><tspan y="460">O</tspan><tspan y="472.5">4</tspan><tspan y="460">:Eu</tspan><tspan y="440.5">2</tspan><tspan class="pl" y="443.7" dx="-1.8">+</tspan><tspan y="460">, 0.5% Dy</tspan><tspan y="440.5">3</tspan><tspan class="pl" y="443.7" dx="-3.2">+</tspan></text>
<line x1="1215.8" y1="560" x2="1307.6" y2="560" stroke="#d535fc" stroke-width="13" stroke-linecap="round"/>
<text class="lg" x="1331" y="576.7" fill="#d535fc">SrAl<tspan y="589.2">2</tspan><tspan y="576.7">O</tspan><tspan y="589.2">4</tspan><tspan y="576.7">:Eu</tspan><tspan y="557.2">2</tspan><tspan class="pl" y="560.4" dx="-1.8">+</tspan><tspan y="576.7">, 2% Dy</tspan><tspan y="557.2">3</tspan><tspan class="pl" y="560.4" dx="-3.2">+</tspan></text>
<rect x="661.1" y="58.2" width="209.7" height="84.9" fill="#fff" stroke="#000" stroke-width="1.9"/>
<text class="an" x="766" y="121.8" text-anchor="middle">4426.36</text>
<rect x="646.4" y="905.4" width="209.4" height="85" fill="#fff" stroke="#000" stroke-width="1.9"/>
<text class="an" x="751.1" y="968.5" text-anchor="middle">1448.45</text>
<rect x="672.1" y="1173.2" width="180.8" height="84.4" fill="#fff" stroke="#000" stroke-width="1.9"/>
<text class="an" x="762.5" y="1235" text-anchor="middle">331.45</text>
<line x1="892.3" y1="95.8" x2="993.5" y2="87.2" stroke="#000" stroke-width="6.4"/>
<polygon points="1043,82.6 992,75.2 995,99.3" fill="#000"/>
<line x1="875.3" y1="939.2" x2="1007.9" y2="969.9" stroke="#000" stroke-width="6.4"/>
<polygon points="1056.2,979.8 1010.7,958.6 1005,981.2" fill="#000"/>
<line x1="856" y1="1217.6" x2="1006.8" y2="1283.5" stroke="#000" stroke-width="6.4"/>
<polygon points="1048.6,1302 1012.7,1273.6 1000.8,1293.4" fill="#000"/>
</svg></body></html>
